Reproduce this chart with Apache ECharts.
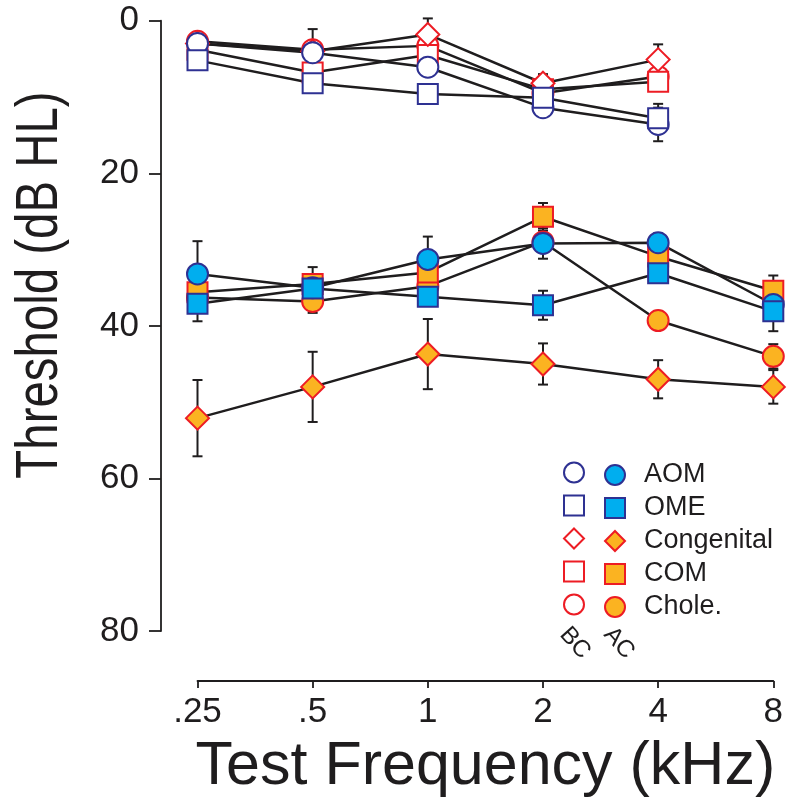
<!DOCTYPE html>
<html>
<head>
  <meta charset="UTF-8">
  <title>Threshold</title>
  <script src="https://cdn.jsdelivr.net/npm/echarts@6/dist/echarts.min.js"></script>
  <style>
    html, body { margin: 0; padding: 0; background: #fff; }
    #main { width: 788px; height: 802px; }
  </style>
</head>
<body>
<div id="main"></div>
<script>
  var freqs = ['.25', '.5', '1', '2', '4', '8'];
  var yTicks = [0, 20, 40, 60, 80];

  // air conduction (filled symbols)
  var aomAC   = [33.2, 35.0, 31.3, 29.2, 29.1, 37.2];
  var omeAC   = [37.1, 35.1, 36.2, 37.3, 33.1, 38.1];
  var congAC  = [52.1, 48.0, 43.7, 45.0, 47.0, 48.0];
  var comAC   = [35.6, 34.5, 33.0, 25.7, 30.9, 35.4];
  var choleAC = [36.3, 36.8, 34.8, 29.0, 39.3, 44.0];
  var aomACsd   = [4.3, 1.0, 3.0, 2.0, 1.2, 1.2];
  var omeACsd   = [2.3, 1.0, 1.0, 1.9, 1.0, 2.6];
  var congACsd  = [5.0, 4.6, 4.6, 2.7, 2.5, 2.2];
  var comACsd   = [1.2, 2.2, 1.0, 1.8, 1.2, 2.0];
  var choleACsd = [1.2, 1.5, 1.2, 1.2, 1.2, 1.6];

  // bone conduction (open symbols)
  var aomBC   = [3.0, 4.2, 6.1, 11.4, 13.6, null];
  var omeBC   = [5.2, 8.2, 9.6, 10.1, 12.8, null];
  var congBC  = [3.0, 4.0, 1.8, 8.2, 5.1, null];
  var comBC   = [3.8, 6.8, 4.5, 9.0, 8.0, null];
  var choleBC = [2.7, 3.8, 3.3, 9.5, 7.3, null];
  var aomBCsd   = [0, 0, 0, 0, 2.2, 0];
  var omeBCsd   = [0, 0, 0, 0, 1.9, 0];
  var congBCsd  = [0, 0, 2.1, 1.2, 2.0, 0];
  var comBCsd   = [0, 0, 0, 0, 0, 0];
  var choleBCsd = [0, 2.7, 0, 0, 0, 0];

  var BLUE = '#2e3192', CYAN = '#00aeef', RED = '#ed1c24', ORANGE = '#fbb321';
  var FONT = '"Liberation Sans", Arial, Helvetica, sans-serif';
  var INK = '#1f1d1e';

  // drawing order: bottom first
  var groups = [
    {name: 'Chole.', symbol: 'circle', size: 21, edge: RED, fill: ORANGE, ac: choleAC, acSd: choleACsd, bc: choleBC, bcSd: choleBCsd},
    {name: 'COM', symbol: 'rect', size: 20, edge: RED, fill: ORANGE, ac: comAC, acSd: comACsd, bc: comBC, bcSd: comBCsd},
    {name: 'Congenital', symbol: 'diamond', size: 23, edge: RED, fill: ORANGE, ac: congAC, acSd: congACsd, bc: congBC, bcSd: congBCsd},
    {name: 'AOM', symbol: 'circle', size: 21, edge: BLUE, fill: CYAN, ac: aomAC, acSd: aomACsd, bc: aomBC, bcSd: aomBCsd},
    {name: 'OME', symbol: 'rect', size: 20, edge: BLUE, fill: CYAN, ac: omeAC, acSd: omeACsd, bc: omeBC, bcSd: omeBCsd}
  ];
  var legendOrder = ['AOM', 'OME', 'Congenital', 'COM', 'Chole.'];

  function errData(vals, sds) {
    var out = [];
    for (var i = 0; i < vals.length; i++) {
      if (vals[i] == null || !sds[i]) continue;
      out.push([i, vals[i] - sds[i], vals[i] + sds[i]]);
    }
    return out;
  }

  function renderErr(params, api) {
    var a = api.coord([api.value(0), api.value(1)]);
    var b = api.coord([api.value(0), api.value(2)]);
    var w = 5;
    var st = {stroke: INK, lineWidth: 2};
    return {
      type: 'group',
      children: [
        {type: 'line', shape: {x1: a[0], y1: a[1], x2: b[0], y2: b[1]}, style: st},
        {type: 'line', shape: {x1: a[0] - w, y1: a[1], x2: a[0] + w, y2: a[1]}, style: st},
        {type: 'line', shape: {x1: b[0] - w, y1: b[1], x2: b[0] + w, y2: b[1]}, style: st}
      ]
    };
  }

  var series = [];
  var errs = [];
  for (let g of groups) {
    errs = errs.concat(errData(g.ac, g.acSd), errData(g.bc, g.bcSd));
  }
  series.push({type: 'custom', name: 'err', renderItem: renderErr, data: errs, z: 3, silent: true});

  for (let g of groups) {
    // connecting lines
    series.push({type: 'line', name: g.name + ' AC line', data: g.ac, showSymbol: false, z: 2, silent: true,
      lineStyle: {color: INK, width: 2.5}});
    series.push({type: 'line', name: g.name + ' BC line', data: g.bc, showSymbol: false, z: 2, silent: true,
      lineStyle: {color: INK, width: 2.5}});
  }
  for (let g of groups) {
    series.push({type: 'scatter', name: g.name + ' BC', data: g.bc, symbol: g.symbol, symbolSize: g.size, z: 4,
      itemStyle: {color: '#fff', borderColor: g.edge, borderWidth: 2, opacity: 1}});
  }
  for (let g of groups) {
    series.push({type: 'scatter', name: g.name, data: g.ac, symbol: g.symbol, symbolSize: g.size, z: 5,
      itemStyle: {color: g.fill, borderColor: g.edge, borderWidth: 2, opacity: 1}});
  }

  function legendItems(suffix, filled) {
    return legendOrder.map(function (n) {
      var g = groups.filter(function (x) { return x.name === n; })[0];
      return {
        name: n + suffix,
        icon: g.symbol,
        itemStyle: {color: filled ? g.fill : '#fff', borderColor: g.edge, borderWidth: 2}
      };
    });
  }

  var chart = echarts.init(document.getElementById('main'));
  chart.setOption({
    animation: false,
    backgroundColor: '#fff',
    grid: {left: 197.5, right: 14.7, top: 20.7, bottom: 171, containLabel: false, outerBoundsMode: 'none'},
    xAxis: {
      type: 'category',
      data: freqs,
      boundaryGap: false,
      offset: 50,
      axisLine: {onZero: false, lineStyle: {color: INK, width: 1.8}},
      axisTick: {length: 7, lineStyle: {color: INK, width: 1.8}},
      axisLabel: {color: INK, fontSize: 35, fontFamily: FONT, margin: 14},
      splitLine: {show: false},
      name: 'Test Frequency (kHz)',
      nameLocation: 'middle',
      nameGap: 56,
      nameTextStyle: {color: INK, fontSize: 61, fontFamily: FONT}
    },
    yAxis: {
      type: 'value',
      inverse: true,
      min: 0,
      max: 80,
      interval: 20,
      offset: 36.5,
      axisLine: {show: true, onZero: false, lineStyle: {color: INK, width: 1.8}},
      axisTick: {show: true, length: 12, lineStyle: {color: INK, width: 1.8}},
      axisLabel: {color: INK, fontSize: 35, fontFamily: FONT, margin: 22,
        formatter: function (v) { return yTicks.indexOf(v) >= 0 ? String(v) : ''; }},
      splitLine: {show: false}
    },
    legend: [
      {
        data: legendItems(' BC', false),
        orient: 'vertical', left: 563, top: 461.5, padding: 0,
        itemWidth: 20, itemHeight: 20, itemGap: 11,
        selectedMode: false,
        formatter: function () { return ''; },
        textStyle: {lineHeight: 20, fontSize: 10}
      },
      {
        data: legendItems('', true),
        orient: 'vertical', left: 604, top: 461.5, padding: 0,
        itemWidth: 20, itemHeight: 20, itemGap: 6,
        selectedMode: false,
        textStyle: {color: INK, fontSize: 27, fontFamily: FONT, padding: [0, 0, 0, 14]}
      }
    ],
    graphic: [
      {type: 'text', x: 40, y: 285, rotation: Math.PI / 2, scaleX: 0.79, silent: true,
        style: {text: 'Threshold (dB HL)', fontSize: 60, fontFamily: FONT, fill: INK, align: 'center', verticalAlign: 'middle'}},
      {type: 'text', x: 575, y: 643, rotation: -0.84, silent: true,
        style: {text: 'BC', fontSize: 24, fontFamily: FONT, fill: INK, align: 'center', verticalAlign: 'middle'}},
      {type: 'text', x: 619, y: 643, rotation: -0.84, silent: true,
        style: {text: 'AC', fontSize: 24, fontFamily: FONT, fill: INK, align: 'center', verticalAlign: 'middle'}}
    ],
    series: series
  });
</script>
</body>
</html>
